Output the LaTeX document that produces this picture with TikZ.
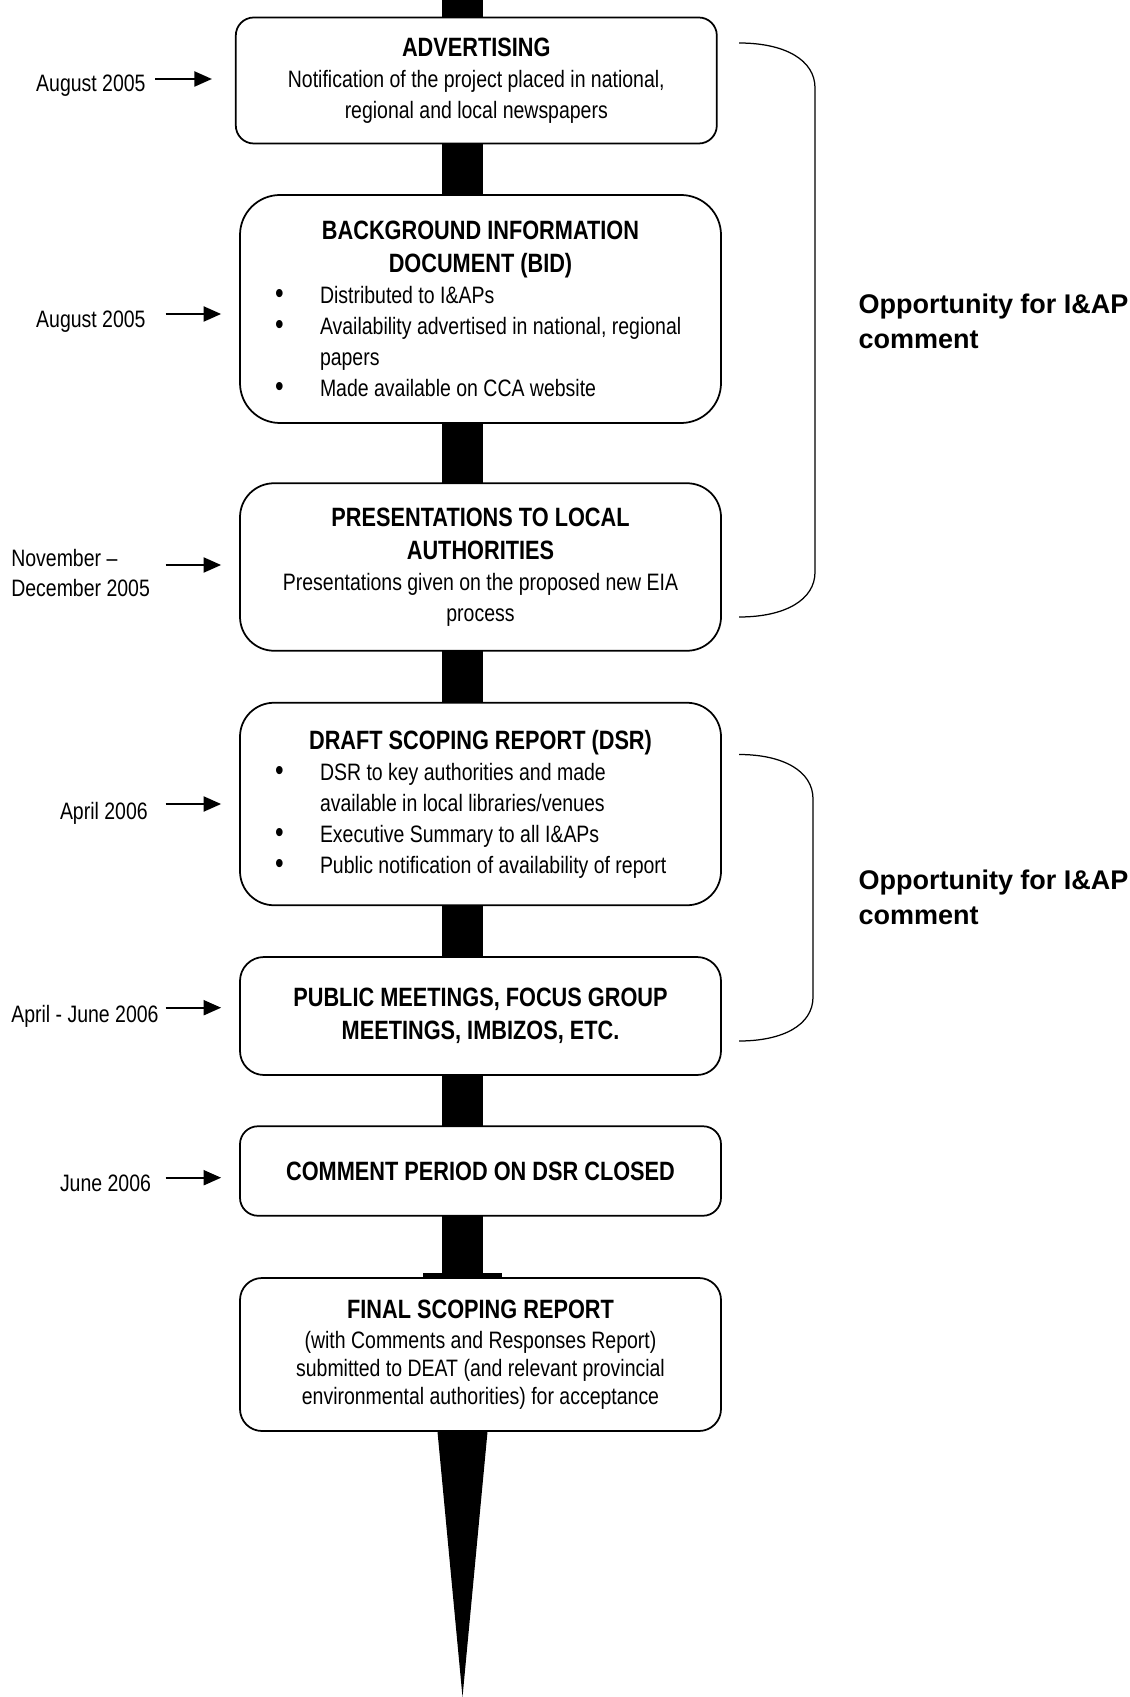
\documentclass[tikz,border=0pt]{standalone}
\usepackage{fontspec}
\setmainfont{Liberation Sans}
\newfontfamily\narrowsans[FakeStretch=0.82]{Liberation Sans}
\usetikzlibrary{arrows.meta,backgrounds}

\newcommand{\stagetitle}[1]{{\noindent\fontsize{10.6}{13.2}\selectfont\bfseries #1\par}}
\newcommand{\stageitem}[1]{{\leftskip=32pt\rightskip=0pt plus 1fil\parfillskip=0pt plus 1fil%
  \noindent\llap{\makebox[18pt][l]{\fontsize{12}{12}\selectfont\textbullet}}#1\par}}

\begin{document}
\begin{tikzpicture}[x=0.4pt,y=-0.4pt,
  stage/.style={draw,line width=0.7pt,fill=white,rounded corners=#1,text width=192.4pt,
    inner xsep=0pt,inner ysep=0pt,align=flush center,font=\narrowsans\fontsize{9.5}{12.4}\selectfont},
  stage/.default=8pt,
  date/.style={anchor=base west,align=flush left,inner sep=0pt,font=\narrowsans\fontsize{9.5}{12}\selectfont},
  datearrow/.style={line width=0.8pt,-{Triangle[length=7pt,width=6pt]},shorten >=7.2pt},
  remark/.style={anchor=west,align=flush left,inner sep=0pt,font=\bfseries\fontsize{10.8}{14}\selectfont},
  bracket/.style={line width=0.5pt}]
\useasboundingbox (0,0) rectangle (1130,1697);

% stages
\node[stage=7.2pt,minimum height=50.4pt] (advert) at (476.3,80.5)
  {\stagetitle{ADVERTISING}Notification of the project placed in national,\\regional and local newspapers};
\node[stage=16pt,minimum height=91.2pt] (bid) at (480.5,309)
  {\stagetitle{BACKGROUND INFORMATION\\DOCUMENT (BID)}%
   \stageitem{Distributed to I\&APs}%
   \stageitem{Availability advertised in national, regional\\papers}%
   \stageitem{Made available on CCA website}};
\node[stage=13.6pt,minimum height=67pt] (present) at (480.5,567)
  {\stagetitle{PRESENTATIONS TO LOCAL\\AUTHORITIES}Presentations given on the proposed new EIA\\process};
\node[stage=13.6pt,minimum height=81pt] (dsr) at (480.5,804)
  {\stagetitle{DRAFT SCOPING REPORT (DSR)}%
   \stageitem{DSR to key authorities and made\\available in local libraries/venues}%
   \stageitem{Executive Summary to all I\&APs}%
   \stageitem{Public notification of availability of report}};
\node[stage=9.6pt,minimum height=47.2pt] (meet) at (480.5,1016)
  {\stagetitle{PUBLIC MEETINGS, FOCUS GROUP\\MEETINGS, IMBIZOS, ETC.}};
\node[stage=7.2pt,minimum height=35.8pt] (closed) at (480.5,1171)
  {\stagetitle{COMMENT PERIOD ON DSR CLOSED}};
\node[stage=8.8pt,minimum height=61.2pt,font=\narrowsans\fontsize{9.5}{11.2}\selectfont] (final) at (480.5,1354.5)
  {\stagetitle{FINAL SCOPING REPORT}\vspace{0.85pt}%
   (with Comments and Responses Report)\\submitted to DEAT (and relevant provincial\\environmental authorities) for acceptance\par\vspace{-1.7pt}};

% spine and spike
\coordinate (top) at (462.5,0);
\coordinate (tip) at (462.5,1697);
\coordinate (spinefoot) at (top |- final.north);
\coordinate (spikebase) at (tip |- final.south);
\begin{scope}[on background layer]
\draw[line width=16.4pt] (top) -- (spinefoot);
\fill ([xshift=-15.8pt]spinefoot) rectangle ([xshift=15.8pt,yshift=1.6pt]spinefoot);
\fill ([xshift=-10pt]spikebase) -- ([xshift=10pt]spikebase) -- (tip) -- cycle;
\end{scope}

% dates
\node[date] (d1) at (35.7,91.5) {August 2005};
\node[date] (d2) at (35.7,327.5) {August 2005};
\node[date] (d3) at (10.8,596) {November \textendash\\December 2005};
\node[date] (d4) at (59.5,819) {April 2006};
\node[date] (d5) at (10.8,1022.5) {April - June 2006};
\node[date] (d6) at (59.5,1191.5) {June 2006};
\coordinate (a1) at (155,79);
\coordinate (a2) at (165.6,314);
\coordinate (a3) at (165.6,565);
\coordinate (a4) at (165.6,804);
\coordinate (a5) at (165.6,1007.7);
\coordinate (a6) at (165.6,1177.7);
\draw[datearrow,shorten >=9.2pt] (a1) -- (a1 -| advert.west);
\draw[datearrow] (a2) -- (a2 -| bid.west);
\draw[datearrow] (a3) -- (a3 -| present.west);
\draw[datearrow] (a4) -- (a4 -| dsr.west);
\draw[datearrow] (a5) -- (a5 -| meet.west);
\draw[datearrow] (a6) -- (a6 -| closed.west);

% comment periods
\draw[bracket] (739,43) .. controls (785,43) and (815,60) .. (815,88) -- (815,572)
  .. controls (815,600) and (785,617) .. (739,617);
\draw[bracket] (739,754.5) .. controls (783,754.5) and (813,771) .. (813,799) -- (813,997)
  .. controls (813,1025) and (783,1041) .. (739,1041);
\node[remark] (op1) at (858,321.5) {Opportunity for I\&AP\\comment};
\node[remark] (op2) at (858,897) {Opportunity for I\&AP\\comment};
\end{tikzpicture}
\end{document}
